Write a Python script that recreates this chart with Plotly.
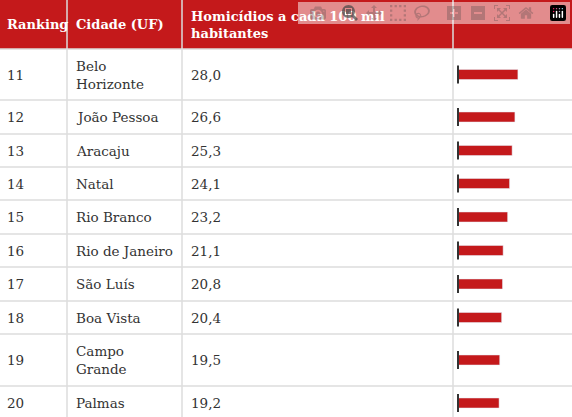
import plotly.graph_objects as go

ranking = [11, 12, 13, 14, 15, 16, 17, 18, 19, 20]
cidades = ["Belo<br>Horizonte", "João Pessoa", "Aracaju", "Natal", "Rio Branco",
           "Rio de Janeiro", "São Luís", "Boa Vista", "Campo<br>Grande", "Palmas"]
taxas = [28.0, 26.6, 25.3, 24.1, 23.2, 21.1, 20.8, 20.4, 19.5, 19.2]
headers = ["Ranking", "Cidade (UF)", "Homicídios a cada 100 mil<br>habitantes"]

W, H = 572, 417
RED = "#c4191b"
FONT = "DejaVu Serif"
row_edges = [49, 100, 134, 167, 200, 234, 267, 301, 334, 386, 420]
centers = [(a + b) / 2 for a, b in zip(row_edges[:-1], row_edges[1:])]
col_x = [5, 74, 189]
col_lines = [67, 182, 453]

fig = go.Figure()
fig.add_trace(go.Bar(x=taxas, y=centers, orientation="h", width=10,
                     marker_color=RED, xaxis="x2", yaxis="y", hoverinfo="skip"))
fig.add_trace(go.Scatter(x=[0] * len(taxas), y=centers, mode="markers", xaxis="x2", yaxis="y",
                         marker=dict(symbol="line-ns", size=13, line=dict(width=2, color="#333")),
                         hoverinfo="skip"))

shapes = [dict(type="rect", xref="x", yref="y", x0=0, x1=W, y0=0, y1=49,
               fillcolor=RED, line_width=0, layer="below")]
for y in row_edges[:-1]:
    shapes.append(dict(type="line", xref="x", yref="y", x0=0, x1=W, y0=y, y1=y,
                       line=dict(color="#dcdcdc", width=1.5)))
for x in col_lines:
    shapes.append(dict(type="line", xref="x", yref="y", x0=x, x1=x, y0=0, y1=H,
                       line=dict(color="#dcdcdc", width=1.5)))

ann = []
for x, h in zip(col_x, headers):
    ann.append(dict(x=x, y=24.5, xref="x", yref="y", text="<b>" + h + "</b>", showarrow=False,
                    xanchor="left", align="left", font=dict(family=FONT, size=13, color="white")))
for c, r, cid, t in zip(centers, ranking, cidades, taxas):
    for x, s in zip(col_x, [str(r), cid, f"{t:.1f}".replace(".", ",")]):
        ann.append(dict(x=x, y=c, xref="x", yref="y", text=s, showarrow=False,
                        xanchor="left", align="left", font=dict(family=FONT, size=13.5, color="#333")))

fig.update_layout(
    width=W, height=H, margin=dict(l=0, r=0, t=0, b=0),
    paper_bgcolor="white", plot_bgcolor="rgba(0,0,0,0)", showlegend=False,
    xaxis=dict(range=[0, W], visible=False, fixedrange=True),
    xaxis2=dict(domain=[453 / W, 1], range=[-2.34, 53.3], visible=False, anchor="y"),
    yaxis=dict(range=[H, 0], visible=False),
    shapes=shapes, annotations=ann,
)
fig.write_html("out.html", post_script="document.body.style.margin='0';")
